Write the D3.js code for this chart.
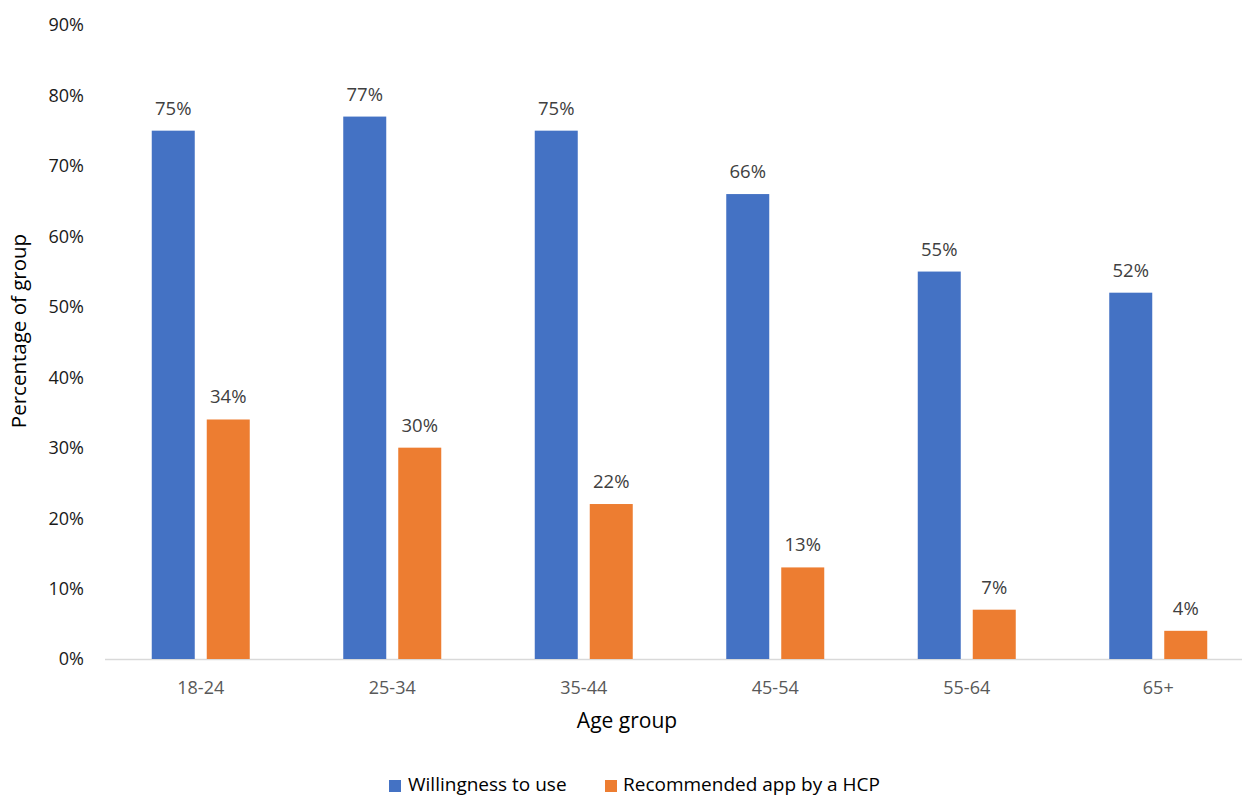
<!DOCTYPE html>
<html><head><meta charset="utf-8">
<script src="https://cdn.jsdelivr.net/npm/d3@7"></script>
<style>body{margin:0;background:#fff}svg{display:block;font-family:"Open Sans",sans-serif}</style>
</head><body><svg id="c" width="1242" height="797"></svg>
<script>
const categories = ["18-24","25-34","35-44","45-54","55-64","65+"];
const willingness = [75,77,75,66,55,52];
const recommended = [34,30,22,13,7,4];
const seriesNames = ["Willingness to use","Recommended app by a HCP"];
const colors = ["#4472C4","#ED7D31"];
const yTicks = [0,10,20,30,40,50,60,70,80,90];

const svg = d3.select("#c");
const x = d3.scaleBand().domain(categories).range([105,1254]);
const y = d3.scaleLinear().domain([0,90]).range([659,25]);
const barW = 43, gap = 12;
const series = [willingness, recommended];

// y tick labels
svg.append("g").selectAll("text").data(yTicks).join("text")
  .attr("x",84).attr("y",d=>y(d)).attr("dy","0.36em").attr("text-anchor","end")
  .attr("font-size",18).attr("fill","#1a1a1a").text(d=>d+"%");

// axis line
svg.append("line").attr("x1",105).attr("x2",1254).attr("y1",y(0)+0.5).attr("y2",y(0)+0.5)
  .attr("stroke","#d9d9d9").attr("stroke-width",1.5);

series.forEach((vals,si)=>{
  const off = si===0 ? -(barW+gap/2) : gap/2;
  svg.append("g").selectAll("rect").data(vals).join("rect")
    .attr("x",(d,i)=>x.bandwidth()/2 + x(categories[i]) + off)
    .attr("y",d=>y(d)).attr("width",barW).attr("height",d=>y(0)-y(d))
    .attr("fill",colors[si]);
  svg.append("g").selectAll("text").data(vals).join("text")
    .attr("x",(d,i)=>x.bandwidth()/2 + x(categories[i]) + off + barW/2)
    .attr("y",d=>y(d)-16).attr("text-anchor","middle")
    .attr("font-size",18.5).attr("fill","#404040").text(d=>d+"%");
});

// category labels
svg.append("g").selectAll("text").data(categories).join("text")
  .attr("x",d=>x(d)+x.bandwidth()/2).attr("y",694).attr("text-anchor","middle")
  .attr("font-size",18).attr("fill","#595959").text(d=>d);

// axis titles
svg.append("text").attr("x",627).attr("y",728).attr("text-anchor","middle")
  .attr("font-size",21).attr("fill","#000").text("Age group");
svg.append("text").attr("transform","translate(26,331) rotate(-90)").attr("text-anchor","middle")
  .attr("font-size",20.5).attr("fill","#000").text("Percentage of group");

// legend
const legX = [389,605];
const legTx = [408,623];
seriesNames.forEach((n,i)=>{
  svg.append("rect").attr("x",legX[i]).attr("y",780).attr("width",12).attr("height",12).attr("fill",colors[i]);
  svg.append("text").attr("x",legTx[i]).attr("y",791).attr("font-size",19).attr("fill","#000").text(n);
});
</script></body></html>
